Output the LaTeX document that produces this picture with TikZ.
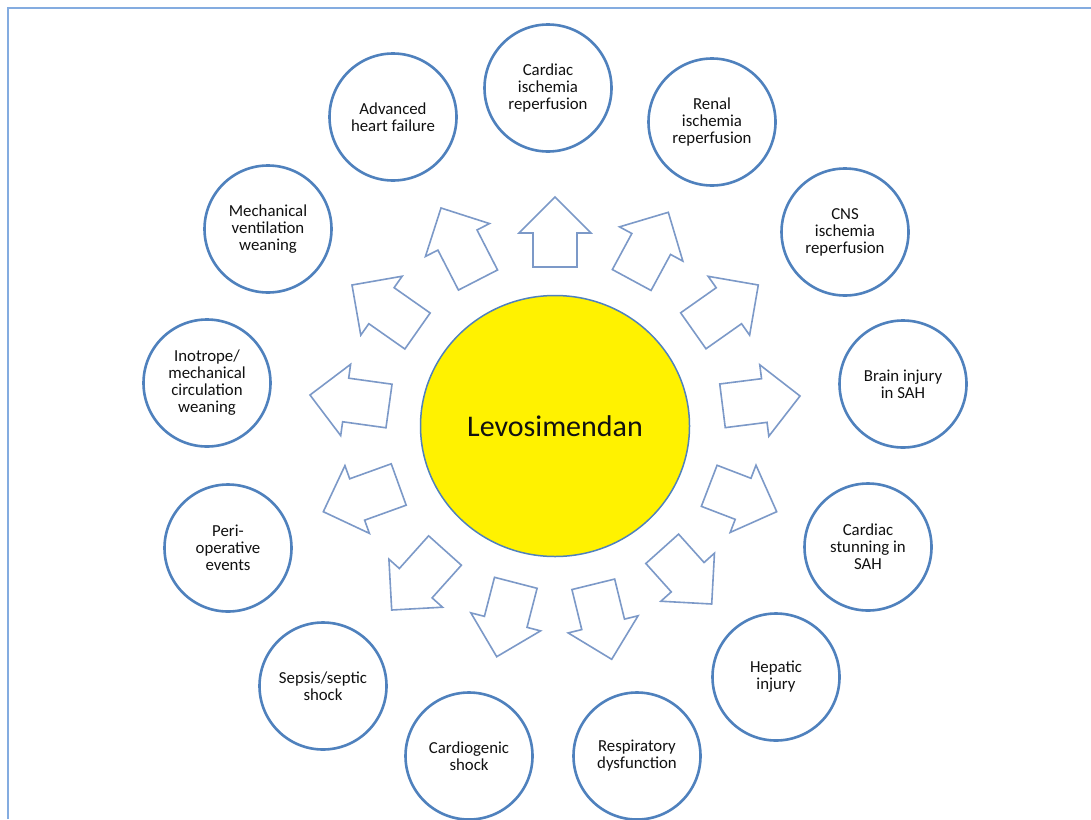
\documentclass[tikz,border=0pt]{standalone}
\usepackage{fontspec}
\setmainfont{Carlito}
\usetikzlibrary{calc,shapes.geometric}
\definecolor{ringblue}{HTML}{4F81BD}
\definecolor{arrowblue}{RGB}{124,153,200}
\definecolor{frameblue}{RGB}{132,172,224}
\definecolor{txt}{HTML}{111111}
\newcommand\blockarrow[2]{%
  \coordinate (hb) at ($(#2)!36pt!(#1)$);
  \draw[blockarr] ($(#1)!22pt!90:(#2)$) -- ($(hb)!22pt!90:(#2)$) -- ($(hb)!36pt!90:(#2)$) -- (#2)
     -- ($(hb)!36pt!-90:(#2)$) -- ($(hb)!22pt!-90:(#2)$) -- ($(#1)!22pt!-90:(#2)$) -- cycle;}
\begin{document}
\begin{tikzpicture}[x=1pt,y=-1pt,
  ring/.style={circle,draw=ringblue,line width=2.6pt,minimum size=127pt,inner sep=0pt,
    align=center,font=\fontsize{16.8}{17}\selectfont,text=txt},
  blockarr/.style={draw=arrowblue,line width=1.6pt,fill=white},
  framestyle/.style={draw=frameblue,line width=2.8pt}]
\useasboundingbox (0,0) rectangle (1091,819);
\fill[white] (0,0) rectangle (1091,819);
\draw[framestyle] (8,819) -- (8,8) -- (1091,8);

\node[ellipse,draw=ringblue,line width=1.5pt,fill=yellow,minimum width=269pt,minimum height=261pt,
  font=\fontsize{30}{36}\selectfont,text=txt] (levo) at (555,426) {Levosimendan};

\node[ring] (c1) at (548,88) {Cardiac\\ischemia\\reperfusion};
\node[ring] (c2) at (393,117) {Advanced\\heart failure};
\node[ring] (c3) at (712,122) {Renal\\ischemia\\reperfusion};
\node[ring] (c4) at (845,232) {CNS\\ischemia\\reperfusion};
\node[ring] (c5) at (268,229) {Mechanical\\ventilation\\weaning};
\node[ring] (c6) at (207,383) {Inotrope/\\mechanical\\circulation\\weaning};
\node[ring] (c7) at (903,384) {Brain injury\\in SAH};
\node[ring] (c8) at (868,547) {Cardiac\\stunning in\\SAH};
\node[ring] (c9) at (228,548) {Peri-\\operative\\events};
\node[ring] (c10) at (776,677) {Hepatic\\injury};
\node[ring] (c11) at (323,686) {Sepsis/septic\\shock};
\node[ring] (c12) at (469,756) {Cardiogenic\\shock};
\node[ring] (c13) at (637,756) {Respiratory\\dysfunction};

\coordinate (t0) at (555,267);     \coordinate (p0) at (555,197);
\coordinate (t1) at (478,280);     \coordinate (p1) at (441,208);
\coordinate (t2) at (417.5,331);   \coordinate (p2) at (352,285);
\coordinate (t3) at (389,406);     \coordinate (p3) at (310,395);
\coordinate (t4) at (398.7,484.5); \coordinate (p4) at (323.3,511.7);
\coordinate (t5) at (445,550.5);   \coordinate (p5) at (391.7,610);
\coordinate (t6) at (515.8,582.8); \coordinate (p6) at (496.7,656.7);
\coordinate (t7) at (593.3,584.3); \coordinate (p7) at (611.7,659.3);
\coordinate (t8) at (662.2,548.8); \coordinate (p8) at (711.7,604);
\coordinate (t9) at (709.2,485.8); \coordinate (p9) at (776.7,511.7);
\coordinate (t10) at (722.5,405.8);\coordinate (p10) at (800,396);
\coordinate (t11) at (693.3,330.8);\coordinate (p11) at (758.3,285);
\coordinate (t12) at (631.7,280);  \coordinate (p12) at (668.3,212.3);
\foreach \k in {0,...,12}{\blockarrow{t\k}{p\k}}
\end{tikzpicture}
\end{document}
